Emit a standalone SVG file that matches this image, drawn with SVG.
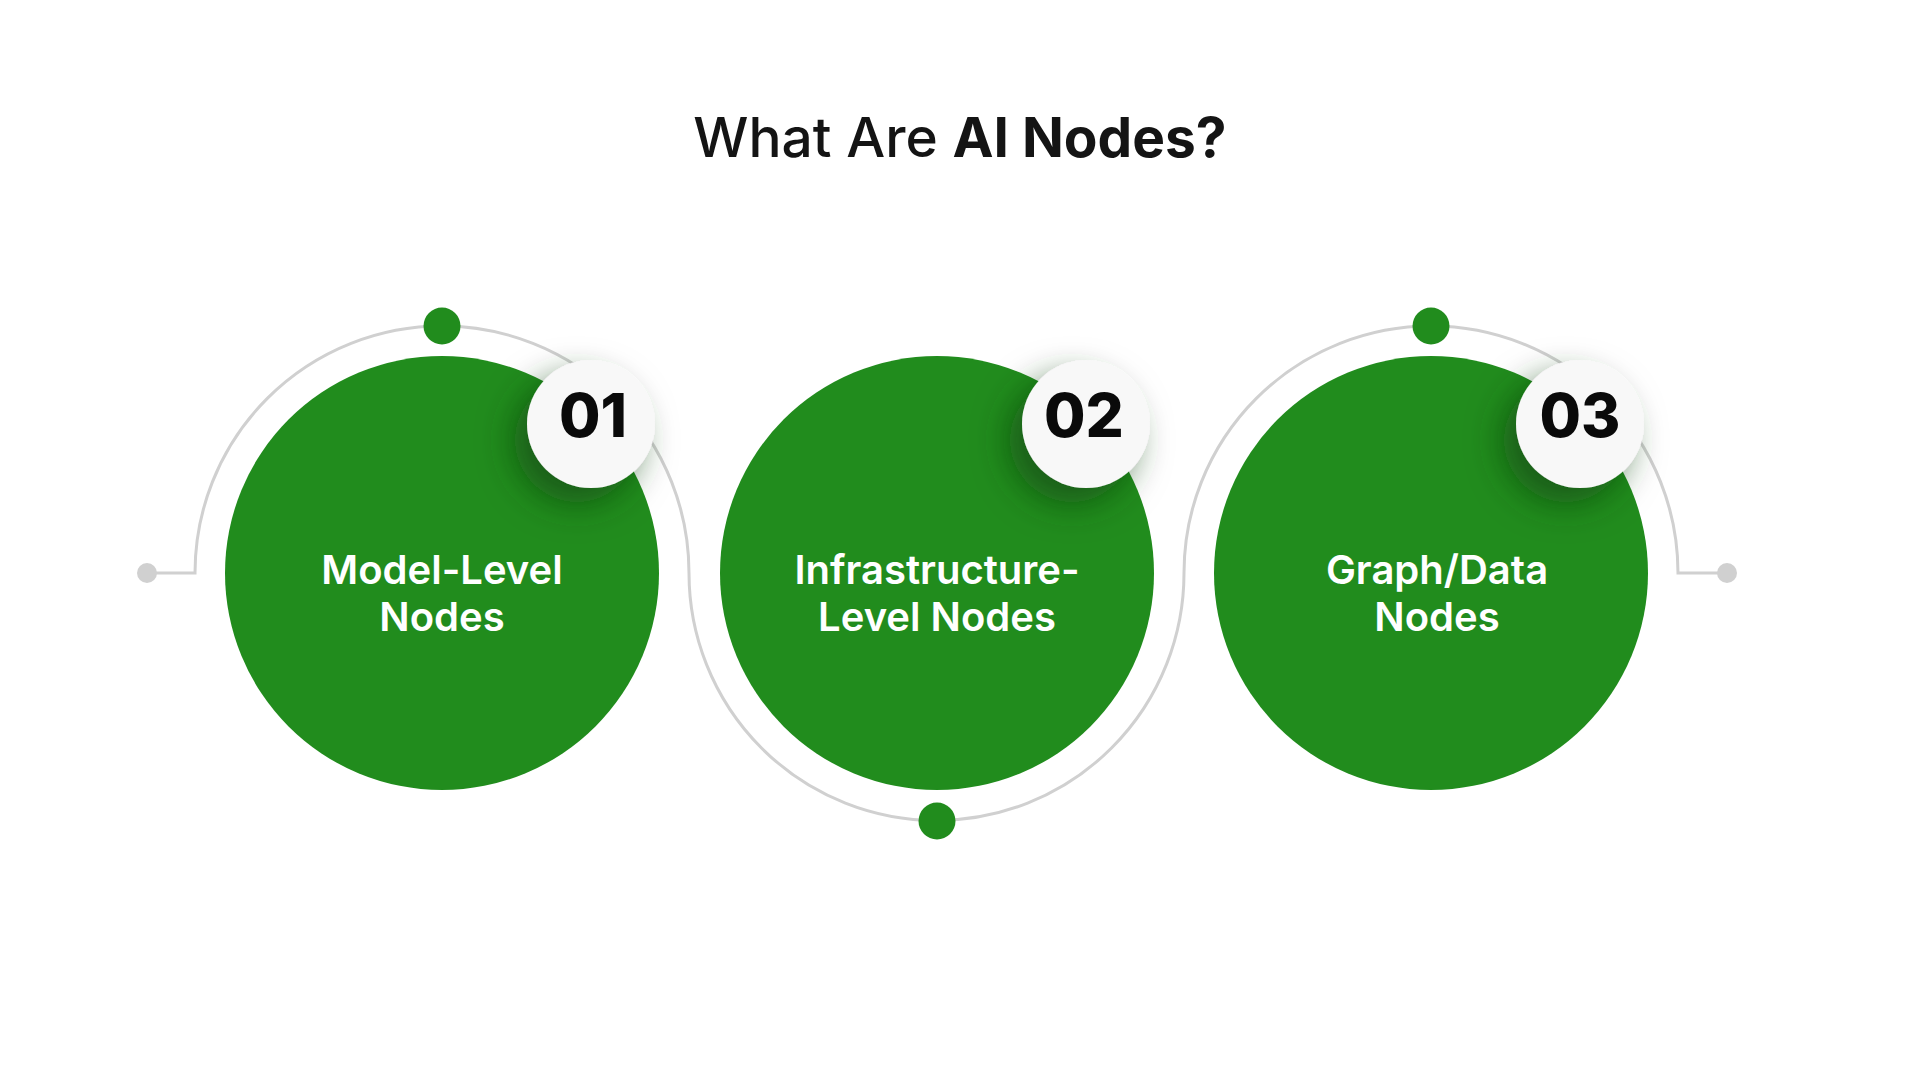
<svg xmlns="http://www.w3.org/2000/svg" width="1920" height="1080" viewBox="0 0 1920 1080">
<defs>
<style>
.title{font-family:Inter,"Liberation Sans",sans-serif;font-size:55px;font-weight:500;fill:#141414;}
.label{font-family:Inter,"Liberation Sans",sans-serif;font-size:40px;font-weight:600;fill:#ffffff;text-anchor:middle;}
.num{font-family:Inter,"Liberation Sans",sans-serif;font-size:60px;font-weight:800;fill:#0a0a0a;text-anchor:middle;}
.main{fill:#218C1D;}
.badge{fill:#f8f8f8;filter:url(#sh);}
.dot{fill:#218C1D;}
.gdot{fill:#d0d0d0;}
.track{fill:none;stroke:#d0d0d0;stroke-width:3;}
</style>
<filter id="sh" x="-70%" y="-70%" width="240%" height="240%">
<feDropShadow dx="-14" dy="16" stdDeviation="17" flood-color="#0b3a08" flood-opacity="0.6"/>
</filter>
</defs>
<rect width="1920" height="1080" fill="#ffffff"/>
<text class="title" x="960" y="157" text-anchor="middle">What Are <tspan font-weight="700">AI Nodes?</tspan></text>
<g id="connectors">
<path class="track" d="M147,573 H195 A247,247 0 0 1 689,573 A247,247 0 0 0 1184,573 A247,247 0 0 1 1678,573 H1727"/>
<circle class="gdot" cx="147" cy="573" r="10"/>
<circle class="gdot" cx="1727" cy="573" r="10"/>
<circle class="dot" cx="442" cy="326" r="18.5"/>
<circle class="dot" cx="937" cy="821" r="18.5"/>
<circle class="dot" cx="1431" cy="326" r="18.5"/>
</g>
<g id="node1">
<circle class="main" cx="442" cy="573" r="217"/>
<text class="label" x="442" y="584">Model-Level</text>
<text class="label" x="442" y="631">Nodes</text>
<circle class="badge" cx="591" cy="424" r="64"/>
<text class="num" x="593" y="437">01</text>
</g>
<g id="node2">
<circle class="main" cx="937" cy="573" r="217"/>
<text class="label" x="937" y="584">Infrastructure-</text>
<text class="label" x="937" y="631">Level Nodes</text>
<circle class="badge" cx="1086" cy="424" r="64"/>
<text class="num" x="1084" y="437">02</text>
</g>
<g id="node3">
<circle class="main" cx="1431" cy="573" r="217"/>
<text class="label" x="1437" y="584">Graph/Data</text>
<text class="label" x="1437" y="631">Nodes</text>
<circle class="badge" cx="1580" cy="424" r="64"/>
<text class="num" x="1580" y="437">03</text>
</g>
</svg>
